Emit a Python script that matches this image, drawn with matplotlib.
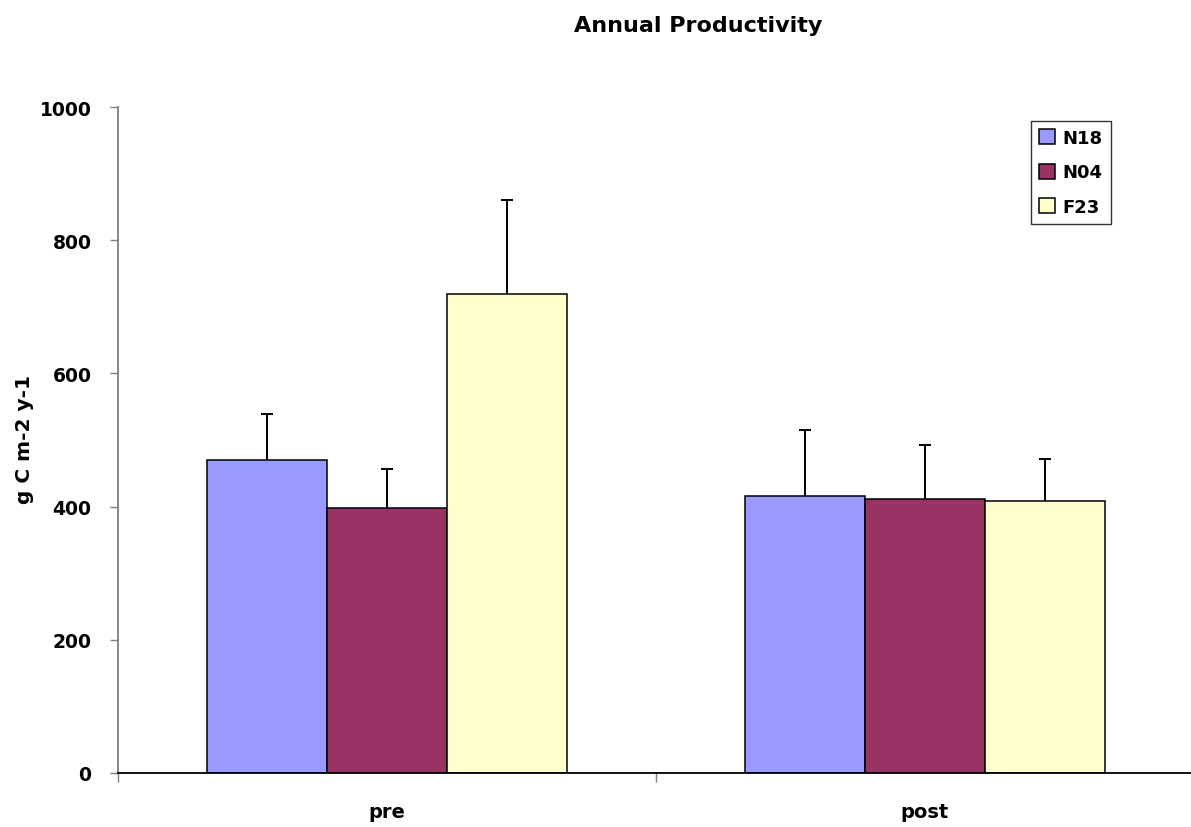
import numpy as np
import matplotlib
matplotlib.use("Agg")
import matplotlib.pyplot as plt

plt.rcParams['font.family'] = ['DejaVu Sans']
plt.rcParams['font.weight'] = 'bold'

# Data
periods = ["pre", "post"]
series = ["N18", "N04", "F23"]
n18 = [470, 416]
n04 = [398, 411]
f23 = [719, 408]
n18_err = [69, 99]
n04_err = [58, 82]
f23_err = [142, 63]
colors = ["#9999FF", "#993366", "#FFFFCC"]
y_ticks = [0, 200, 400, 600, 800, 1000]

W, H = 1191, 828
fig = plt.figure(figsize=(W / 100, H / 100), dpi=100)
ax = fig.add_axes([118 / W, 54 / H, (1194 - 118) / W, (774 - 108) / H])

x = np.arange(len(periods))
bw = 0.223
values = [n18, n04, f23]
errors = [n18_err, n04_err, f23_err]
for i, (name, vals, errs, col) in enumerate(zip(series, values, errors, colors)):
    pos = x + (i - 1) * bw
    ax.bar(pos, vals, width=bw, color=col, edgecolor="black",
           linewidth=1.1, label=name, zorder=2)
    eb = ax.errorbar(pos, vals, yerr=[np.zeros(len(vals)), errs], fmt="none",
                     ecolor="black", elinewidth=1.4, capsize=4.5,
                     capthick=1.4, zorder=3)
    # only the upper whisker is shown
    eb[1][0].set_visible(False)

ax.set_xlim(-0.5, 1.5)
ax.set_ylim(0, 1000)

ax.set_yticks(y_ticks)
ax.set_yticklabels([str(v) for v in y_ticks], fontsize=13.5, fontweight="bold")
ax.tick_params(axis="y", direction="out", length=6, width=1,
               color="#808080", pad=13)

ax.set_xticks([-0.5, 0.5, 1.5])
ax.set_xticklabels([])
ax.tick_params(axis="x", which="major", direction="out", length=6.5,
               width=1, color="#808080")
ax.set_xticks(x, minor=True)
ax.set_xticklabels(periods, minor=True, fontsize=14, fontweight="bold")
ax.tick_params(axis="x", which="minor", length=0, pad=21)

for s in ("top", "right"):
    ax.spines[s].set_visible(False)
ax.spines["left"].set_color("#808080")
ax.spines["left"].set_linewidth(1.3)
ax.spines["bottom"].set_color("black")
ax.spines["bottom"].set_linewidth(1.3)

fig.text(698 / W, 1 - 26 / H, "Annual Productivity", ha="center",
         va="center", fontsize=16, fontweight="bold")
fig.text(24 / W, 1 - 440 / H, "g C m-2 y-1", ha="center", va="center",
         rotation=90, fontsize=14.5, fontweight="bold")

leg = ax.legend(loc="upper left", bbox_to_anchor=(1031 / W, 1 - 122 / H),
                bbox_transform=fig.transFigure, frameon=True, fancybox=False,
                prop={"size": 13, "weight": "bold"}, handlelength=0.9,
                handleheight=0.9, handletextpad=0.4, labelspacing=0.9,
                borderpad=0.45, borderaxespad=0)
leg.get_frame().set_edgecolor("black")
leg.get_frame().set_linewidth(1.0)

fig.savefig("out.png", dpi=100)
